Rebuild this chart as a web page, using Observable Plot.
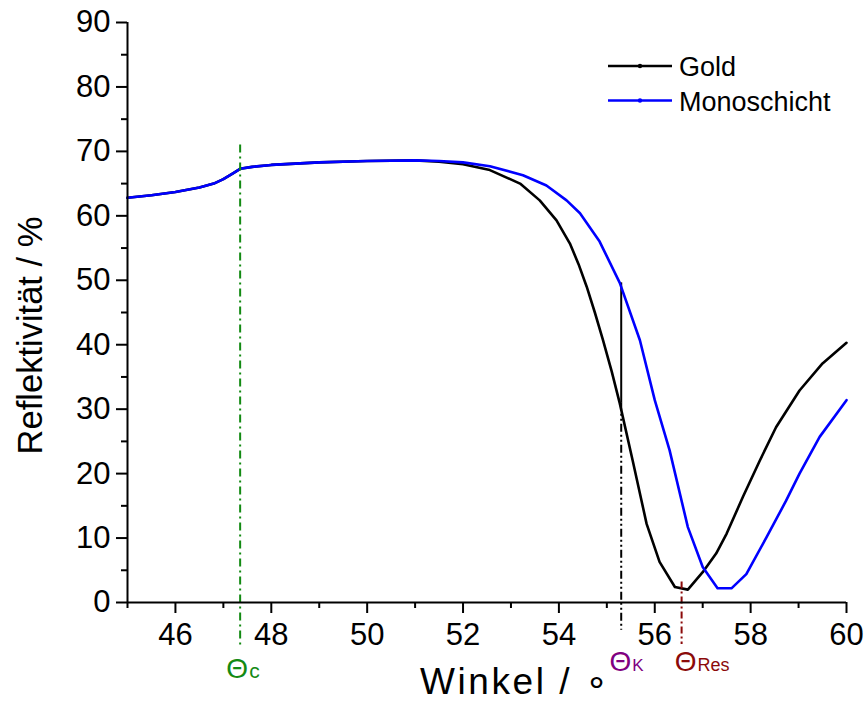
<!DOCTYPE html>
<html><head><meta charset="utf-8">
<script src="https://cdn.jsdelivr.net/npm/d3@7"></script>
<script src="https://cdn.jsdelivr.net/npm/@observablehq/plot@0.6"></script>
<style>
body{margin:0;background:#fff;font-family:"Liberation Sans",Arial,sans-serif;}
#wrap{position:relative;width:866px;height:713px;}
#legend{position:absolute;left:600px;top:44px;}
svg{overflow:visible}
</style></head><body><div id="wrap"></div>
<script>
// Data
const goldX = [45.0,45.5,46.0,46.5,46.8,47.0,47.2,47.35,47.6,48.0,48.5,49.0,50.0,51.0,51.5,52.0,52.56,53.19,53.6,53.95,54.23,54.41,54.58,54.75,54.92,55.1,55.27,55.54,55.83,56.1,56.42,56.69,57.0,57.28,57.5,57.84,58.19,58.53,59.02,59.5,60.0];
const goldY = [62.8,63.2,63.7,64.4,65.0,65.7,66.6,67.3,67.6,67.9,68.1,68.3,68.5,68.6,68.4,68.0,67.1,65.0,62.4,59.3,55.7,52.5,49.0,45.0,40.7,35.9,30.9,22.0,12.2,6.3,2.4,2.0,4.7,7.6,10.7,16.4,22.0,27.2,32.9,37.1,40.3];
const monoX = [45.0,45.5,46.0,46.5,46.8,47.0,47.2,47.35,47.6,48.0,48.5,49.0,50.0,51.0,51.5,52.0,52.56,53.25,53.74,54.16,54.44,54.85,55.27,55.69,56.0,56.31,56.69,57.0,57.31,57.6,57.91,58.33,58.74,59.02,59.44,60.0];
const monoY = [62.8,63.2,63.7,64.4,65.0,65.7,66.6,67.3,67.6,67.9,68.1,68.3,68.5,68.6,68.5,68.3,67.7,66.3,64.7,62.4,60.4,56.0,49.6,40.7,31.4,23.6,11.7,5.5,2.2,2.2,4.4,10.1,15.8,20.0,25.7,31.4];
const seriesNames = ["Gold","Monoschicht"];
const seriesColors = ["#000000","#0000ff"];
const xTicks = [46,48,50,52,54,56,58,60];
const xMinor = [45,47,49,51,53,55,57,59];
const yTicks = [0,10,20,30,40,50,60,70,80,90];
const yMinor = [5,15,25,35,45,55,65,75,85];
// marker lines
const thetaC = 47.35, thetaCRange = [71.0,-6.7];
const thetaK = 55.3, thetaKSolid = [30.9,49.6], thetaKDash = [30.9,-4.3];
const thetaRes = 56.56, thetaResRange = [3.2,-6.5];
const xTitle = "Winkel / \u2218";
const yTitle = "Reflektivit\u00e4t / %";

const gold = goldX.map((x,i)=>({x, y: goldY[i]}));
const mono = monoX.map((x,i)=>({x, y: monoY[i]}));

const FS = 31;
const plot = Plot.plot({
  width: 866, height: 713,
  marginLeft: 127, marginRight: 20, marginTop: 22, marginBottom: 111,
  style: {fontFamily: "'Liberation Sans', Arial, sans-serif", background: "transparent", overflow: "visible"},
  x: {domain: [45, 60]},
  y: {domain: [0, 90]},
  marks: [
    Plot.line(gold, {x: "x", y: "y", stroke: seriesColors[0], strokeWidth: 2.6}),
    Plot.ruleX([thetaK], {y1: thetaKSolid[0], y2: thetaKSolid[1], stroke: "#000", strokeWidth: 2}),
    Plot.line(mono, {x: "x", y: "y", stroke: seriesColors[1], strokeWidth: 2.6}),
    Plot.ruleX([thetaC], {y1: thetaCRange[0], y2: thetaCRange[1], stroke: "#138a13", strokeWidth: 2, strokeDasharray: "8,4,2,4"}),
    Plot.ruleX([thetaK], {y1: thetaKDash[0], y2: thetaKDash[1], stroke: "#000", strokeWidth: 2, strokeDasharray: "8,3,2,3,2,3"}),
    Plot.ruleX([thetaRes], {y1: thetaResRange[0], y2: thetaResRange[1], stroke: "#8b0a0a", strokeWidth: 2, strokeDasharray: "7,3,2,3"}),
    Plot.ruleY([0], {stroke: "#000", strokeWidth: 2}),
    Plot.ruleX([45], {stroke: "#000", strokeWidth: 2}),
    Plot.axisX(xTicks, {tickSize: 11, tickPadding: 9, fontSize: FS, strokeWidth: 2, label: null, fill: "#000"}),
    Plot.axisX(xMinor, {tickSize: 6, tickFormat: () => "", strokeWidth: 2, label: null}),
    Plot.axisY(yTicks, {tickSize: 11, tickPadding: 6, fontSize: FS, strokeWidth: 2, label: null, fill: "#000"}),
    Plot.axisY(yMinor, {tickSize: 6, tickFormat: () => "", strokeWidth: 2, label: null}),
    Plot.text([yTitle], {frameAnchor: "left", textAnchor: "middle", rotate: -90, dx: -97, dy: 23, fontSize: 34.5, fill: "#000"}),
    Plot.text([xTitle], {frameAnchor: "bottom", dy: 91, dx: 27, fontSize: 37, fill: "#000", className: "xtitle"}),
    // Theta labels
    Plot.text(["\u0398"], {x: [thetaC], frameAnchor: "bottom", lineAnchor: "bottom", textAnchor: "end", dx: 8, dy: 75, fontSize: 28, fill: "#138a13"}),
    Plot.text(["c"], {x: [thetaC], frameAnchor: "bottom", lineAnchor: "bottom", textAnchor: "start", dx: 9, dy: 75, fontSize: 21, fill: "#138a13"}),
    Plot.text(["\u0398"], {x: [thetaK], frameAnchor: "bottom", lineAnchor: "bottom", textAnchor: "end", dx: 10, dy: 68, fontSize: 28, fill: "#800080"}),
    Plot.text(["K"], {x: [thetaK], frameAnchor: "bottom", lineAnchor: "bottom", textAnchor: "start", dx: 11, dy: 68, fontSize: 17, fill: "#800080"}),
    Plot.text(["\u0398"], {x: [thetaRes], frameAnchor: "bottom", lineAnchor: "bottom", textAnchor: "end", dx: 15, dy: 68, fontSize: 28, fill: "#8b0a0a"}),
    Plot.text(["Res"], {x: [thetaRes], frameAnchor: "bottom", lineAnchor: "bottom", textAnchor: "start", dx: 16, dy: 68, fontSize: 18, fill: "#8b0a0a"})
  ]
});
document.getElementById("wrap").appendChild(plot);
// slightly wider spacing of the x-axis title, as in the reference
d3.select(plot).selectAll("g.xtitle text").attr("textLength", 188).attr("lengthAdjust", "spacing");

// Legend
const lg = d3.select("#wrap").append("svg").attr("id","legend").attr("width",250).attr("height",80);
seriesNames.forEach((n,i)=>{
  const y = 22 + i*34.5;
  lg.append("line").attr("x1",8).attr("x2",72).attr("y1",y).attr("y2",y).attr("stroke",seriesColors[i]).attr("stroke-width",2.6);
  lg.append("circle").attr("cx",40).attr("cy",y).attr("r",2.2).attr("fill",seriesColors[i]);
  lg.append("text").attr("x",79).attr("y",y+10).attr("font-size",27).attr("font-family","'Liberation Sans', Arial, sans-serif").text(n);
});
</script></body></html>
